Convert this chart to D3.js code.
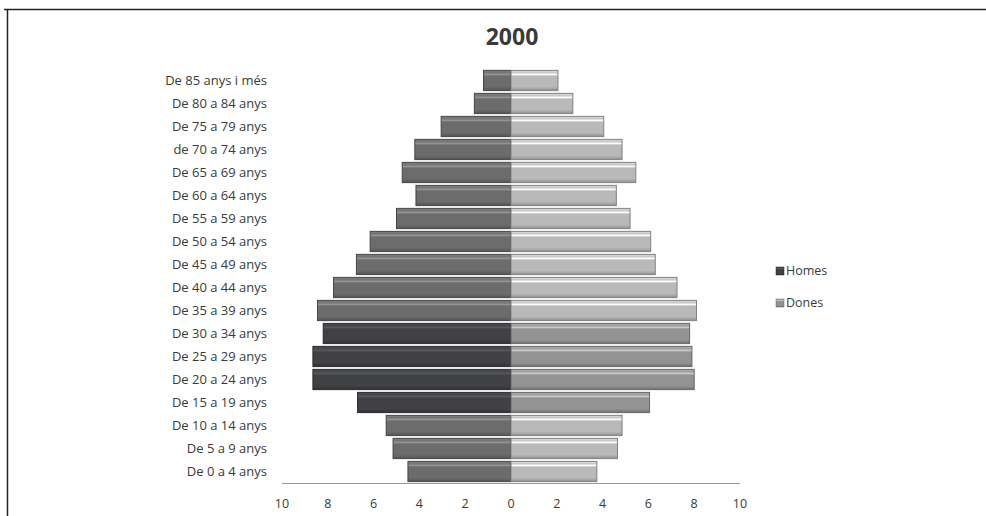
<!DOCTYPE html>
<html>
<head>
<meta charset="utf-8">
<script src="https://cdn.jsdelivr.net/npm/d3@7"></script>
<style>
  body { margin: 0; background: #fff; }
  text { font-family: "Open Sans", "Noto Sans", sans-serif; fill: #3a3a3a; }
</style>
</head>
<body>
<svg width="986" height="516"></svg>
<script>
const ageGroups = ["De 85 anys i més", "De 80 a 84 anys", "De 75 a 79 anys", "de 70 a 74 anys",
  "De 65 a 69 anys", "De 60 a 64 anys", "De 55 a 59 anys", "De 50 a 54 anys", "De 45 a 49 anys",
  "De 40 a 44 anys", "De 35 a 39 anys", "De 30 a 34 anys", "De 25 a 29 anys", "De 20 a 24 anys",
  "De 15 a 19 anys", "De 10 a 14 anys", "De 5 a 9 anys", "De 0 a 4 anys"];
const homes = [1.2, 1.6, 3.05, 4.2, 4.75, 4.15, 5.0, 6.15, 6.75, 7.75, 8.45, 8.2, 8.65, 8.65, 6.7, 5.45, 5.15, 4.5];
const dones = [2.05, 2.7, 4.05, 4.85, 5.45, 4.6, 5.2, 6.1, 6.3, 7.25, 8.1, 7.8, 7.9, 8.0, 6.05, 4.85, 4.65, 3.75];
// groups drawn in the darker shade
const highlighted = ["De 30 a 34 anys", "De 25 a 29 anys", "De 20 a 24 anys", "De 15 a 19 anys"];
const ticks = [10, 8, 6, 4, 2, 0, 2, 4, 6, 8, 10];

const svg = d3.select("svg");

// frame: top and left edges only
svg.append("line").attr("x1", 4).attr("x2", 986).attr("y1", 9.5).attr("y2", 9.5)
  .attr("stroke", "#222").attr("stroke-width", 1.5);
svg.append("line").attr("x1", 7.5).attr("x2", 7.5).attr("y1", 9).attr("y2", 516)
  .attr("stroke", "#222").attr("stroke-width", 1.5);

const x = d3.scaleLinear().domain([-10, 10]).range([282, 740]);
const y = d3.scaleBand().domain(ageGroups).range([69, 483]).paddingInner(0.12).paddingOuter(0.06);

// bevel-like gradients
const defs = svg.append("defs");
function grad(id, base) {
  const c = d3.color(base);
  const g = defs.append("linearGradient").attr("id", id).attr("x1", 0).attr("x2", 0).attr("y1", 0).attr("y2", 1);
  const stops = [
    [0, c.brighter(0.5)], [0.12, c.brighter(0.2)], [0.2, c.brighter(0.9)], [0.28, c],
    [0.8, c], [0.9, c.darker(0.3)], [1, c.darker(0.8)]
  ];
  stops.forEach(([o, col]) => g.append("stop").attr("offset", o).attr("stop-color", col));
}
grad("gHome", "#6c6c6c");
grad("gHomeDark", "#404144");
grad("gDona", "#b9b9b9");
grad("gDonaDark", "#939393");

const g = svg.append("g");

g.selectAll(".home").data(ageGroups).join("rect")
  .attr("class", "home")
  .attr("x", (d, i) => x(-homes[i]))
  .attr("width", (d, i) => x(0) - x(-homes[i]))
  .attr("y", d => y(d))
  .attr("height", y.bandwidth())
  .attr("fill", d => highlighted.includes(d) ? "url(#gHomeDark)" : "url(#gHome)")
  .attr("stroke", d => highlighted.includes(d) ? "#2a2a2c" : "#464646")
  .attr("stroke-width", 1);

g.selectAll(".dona").data(ageGroups).join("rect")
  .attr("class", "dona")
  .attr("x", x(0))
  .attr("width", (d, i) => x(dones[i]) - x(0))
  .attr("y", d => y(d))
  .attr("height", y.bandwidth())
  .attr("fill", d => highlighted.includes(d) ? "url(#gDonaDark)" : "url(#gDona)")
  .attr("stroke", d => highlighted.includes(d) ? "#666" : "#828282")
  .attr("stroke-width", 1);

// category labels
g.selectAll(".lab").data(ageGroups).join("text")
  .attr("x", 267)
  .attr("y", d => y(d) + y.bandwidth() / 2)
  .attr("dy", "0.35em")
  .attr("text-anchor", "end")
  .attr("font-size", 13)
  .text(d => d);

// axis
g.append("line").attr("x1", x(-10)).attr("x2", x(10)).attr("y1", 483.5).attr("y2", 483.5)
  .attr("stroke", "#999").attr("stroke-width", 1.2);
const tickPos = d3.range(-10, 11, 2);
g.selectAll(".tick").data(tickPos).join("text")
  .attr("x", d => x(d))
  .attr("y", 508)
  .attr("text-anchor", "middle")
  .attr("font-size", 12.5)
  .text((d, i) => ticks[i]);

// title
svg.append("text").attr("x", 512).attr("y", 45).attr("text-anchor", "middle")
  .attr("font-size", 23).attr("font-weight", "bold").attr("fill", "#222").text("2000");

// legend
const legend = svg.append("g").attr("transform", "translate(776,265)");
[["Homes", "url(#gHomeDark)", "#2a2a2c"], ["Dones", "url(#gDonaDark)", "#666"]].forEach(([name, fill, stroke], i) => {
  const row = legend.append("g").attr("transform", `translate(0,${i * 32})`);
  row.append("rect").attr("width", 8).attr("height", 8).attr("y", 2).attr("fill", fill).attr("stroke", stroke).attr("stroke-width", 0.5);
  row.append("text").attr("x", 10).attr("y", 6).attr("dy", "0.35em").attr("font-size", 12.5).text(name);
});
</script>
</body>
</html>
